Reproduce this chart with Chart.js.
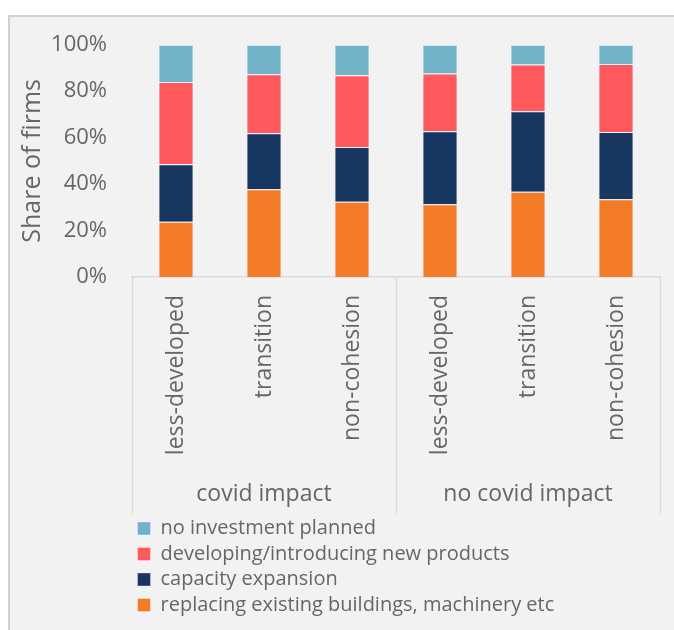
<!DOCTYPE html>
<html>
<head>
<meta charset="utf-8">
<script src="https://cdn.jsdelivr.net/npm/chart.js@4"></script>
<style>
  html, body { margin: 0; padding: 0; background: #ffffff; overflow: hidden; }
  #panel {
    position: absolute; left: 8px; top: 15px;
    width: 700px; height: 640px;
    background: #f2f2f2;
    border-left: 2px solid #d0d0d0; border-top: 2px solid #d0d0d0;
  }
</style>
</head>
<body>
<div id="panel"><canvas id="investChart" width="664" height="613"></canvas></div>
<script>
const groups = ["covid impact", "no covid impact"];
const regions = ["less-developed", "transition", "non-cohesion"];
const categories = [...regions, ...regions];

// shares in %, bottom to top
const replacing = [23.8, 37.8, 32.4, 31.3, 36.7, 33.5];
const capacity = [24.8, 24.1, 23.6, 31.5, 34.7, 28.9];
const newProducts = [35.4, 25.4, 30.9, 24.8, 20.1, 29.3];
const noInvestment = [16.0, 12.7, 13.1, 12.4, 8.5, 8.3];

const yTicks = [0, 20, 40, 60, 80, 100];

const textColor = "#666666";
const fontFamily = "'Open Sans', 'Noto Sans', sans-serif";

// vertical separators between the two category groups
const groupLines = {
    id: "groupLines",
    afterDraw(chart) {
        const x = chart.scales.x;
        const x2 = chart.scales.x2;
        const ctx = chart.ctx;
        const per = regions.length;
        ctx.save();
        ctx.strokeStyle = "#d9d9d9";
        ctx.lineWidth = 1.5;
        for (let i = 0; i <= categories.length; i += per) {
            const px = Math.round(x.getPixelForValue(i - 0.5)) + 0.5;
            ctx.beginPath();
            ctx.moveTo(px, x.top);
            ctx.lineTo(px, x2.bottom);
            ctx.stroke();
        }
        ctx.restore();
    },
};

function makeSet(label, data, color) {
    return {
        label: label,
        data: data,
        backgroundColor: color,
        borderColor: "rgba(255, 255, 255, 0.35)",
        borderWidth: 1,
        barPercentage: 0.4,
        categoryPercentage: 1,
    };
}

new Chart(document.getElementById("investChart"), {
    type: "bar",
    data: {
        labels: categories,
        datasets: [
            makeSet("replacing existing buildings, machinery etc", replacing, "#f47b27"),
            makeSet("capacity expansion", capacity, "#173760"),
            makeSet("developing/introducing new products", newProducts, "#ff585d"),
            makeSet("no investment planned", noInvestment, "#71b2c9"),
        ],
    },
    plugins: [groupLines],
    options: {
        responsive: false,
        animation: false,
        layout: {
            padding: { top: 17, right: 14, bottom: 5, left: 4 },
        },
        scales: {
            x: {
                stacked: true,
                grid: { display: false, drawTicks: false },
                border: { display: true, color: "#d9d9d9", width: 1.5 },
                ticks: {
                    color: textColor,
                    font: { family: fontFamily, size: 23 },
                    minRotation: 90,
                    maxRotation: 90,
                    padding: 18,
                    autoSkip: false,
                },
                afterFit: (scale) => {
                    scale.height = 188;
                },
            },
            x2: {
                type: "category",
                position: "bottom",
                labels: groups,
                offset: true,
                weight: 1,
                grid: { display: false, drawTicks: false },
                border: { display: false },
                ticks: {
                    color: textColor,
                    font: { family: fontFamily, size: 23 },
                    padding: 16,
                },
                afterFit: (scale) => {
                    scale.height = 48;
                },
            },
            y: {
                stacked: true,
                min: 0,
                max: 100,
                grid: { display: false, drawTicks: false },
                border: { display: false },
                afterBuildTicks: (scale) => {
                    scale.ticks = yTicks.map((v) => ({ value: v }));
                },
                ticks: {
                    color: textColor,
                    // small lineHeight keeps the top label padding from pushing the plot down
                    font: { family: fontFamily, size: 22, lineHeight: 0.25 },
                    padding: 25,
                    callback: (value) => value + "%",
                },
                title: {
                    display: true,
                    text: "Share of firms",
                    color: textColor,
                    font: { family: fontFamily, size: 25 },
                    padding: { top: 4, bottom: 0 },
                },
                afterFit: (scale) => {
                    scale.width = 118;
                },
            },
        },
        plugins: {
            legend: {
                position: "bottom",
                align: "start",
                fullSize: false,
                reverse: true,
                labels: {
                    color: textColor,
                    font: { family: fontFamily, size: 20 },
                    boxWidth: 13,
                    boxHeight: 13,
                    padding: 5.5,
                },
            },
            tooltip: { enabled: false },
        },
    },
});
</script>
</body>
</html>
